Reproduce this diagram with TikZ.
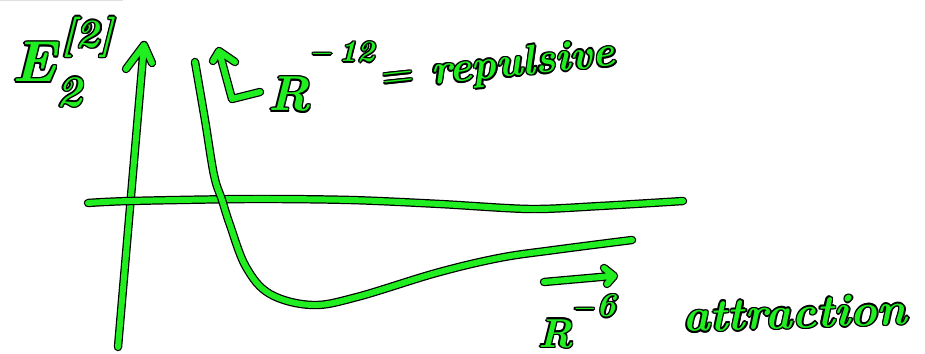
\documentclass[tikz,border=0pt]{standalone}
\usepackage{amsmath}
\usetikzlibrary{positioning}
\definecolor{inkgreen}{RGB}{32,238,32}
\tikzset{
  ink/.style={draw=black,line width=0.7pt,double=inkgreen,double distance=3.4pt,line cap=round,line join=round},
  hand/.style={inner sep=0pt,text=inkgreen,anchor=base west}
}
% black copies round the green text give the outline
\newcommand{\olcopy}[3]{\rlap{\kern#1\raisebox{#2}{\textcolor{black}{#3}}}}
\newcommand{\inked}[1]{\leavevmode
  \olcopy{0.9pt}{0pt}{#1}\olcopy{-0.9pt}{0pt}{#1}%
  \olcopy{0pt}{0.9pt}{#1}\olcopy{0pt}{-0.9pt}{#1}%
  \olcopy{0.64pt}{0.64pt}{#1}\olcopy{-0.64pt}{0.64pt}{#1}%
  \olcopy{0.64pt}{-0.64pt}{#1}\olcopy{-0.64pt}{-0.64pt}{#1}%
  #1}
\newcommand{\handsize}[1]{\fontsize{#1}{#1}\selectfont\bfseries\itshape}

\begin{document}
\begin{tikzpicture}[x=0.02cm,y=-0.02cm]
\useasboundingbox (0,0) rectangle (925,354);
\draw[black!12] (0,0.5) -- (123,0.5);
% axes, potential curve and the two small arrows
\draw[ink] (118,347) -- (144,45) (126,69) -- (144,45) -- (152,63);
\draw[ink] plot[smooth] coordinates {(88,203) (130,201) (250,199) (350,200) (440,204) (530,209) (600,206) (683,201)};
\draw[ink] plot[smooth,tension=0.6] coordinates {(195,62) (205,120) (214,175) (222,200) (230,225) (246,267) (270,294) (312,305) (357,297) (436,273) (499,258) (554,250) (632,240)};
\draw[ink] (260,92) -- (232,99) -- (219,51) (213,61) -- (219,51) -- (235,62);
\draw[ink] (544,282) -- (612,276) (604,268) -- (614,276) -- (607,284);
% labels
\node[hand] (energy) at (12,82) {\handsize{33}\inked{E\rlap{\raisebox{-0.42em}{\handsize{25}2}}\kern3pt\raisebox{0.6em}{\handsize{23}[2]}}};
\node[hand] (reppow) at (268,111) {\handsize{28}\inked{R\raisebox{1.0em}{\handsize{17}$-$\,12}}};
\node[hand,rotate=6] (repword) at (383,90) {\handsize{24}\inked{$=$ repulsive}};
\node[hand] (attpow) at (538,347) {\handsize{23}\inked{R\raisebox{0.75em}{\handsize{19}$-$6}}};
\node[hand,rotate=2] (attword) at (683,332) {\handsize{26}\inked{attraction}};
\end{tikzpicture}
\end{document}
